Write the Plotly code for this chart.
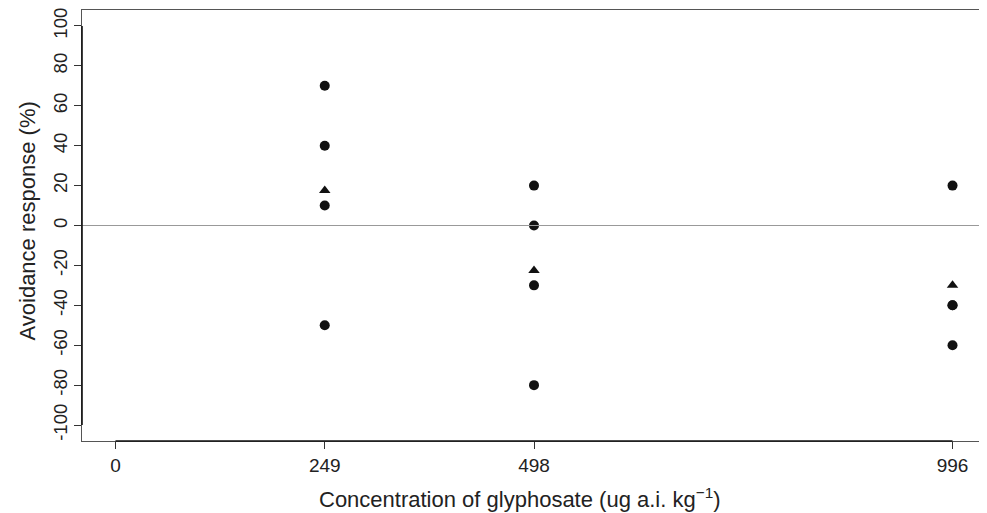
import plotly.graph_objects as go

# Data
conc_obs = [249, 249, 249, 249, 498, 498, 498, 498, 996, 996, 996, 996]
resp_obs = [70, 40, 10, -50, 20, 0, -30, -80, 20, -40, -40, -60]
conc_mean = [249, 498, 996]
resp_mean = [17.5, -22.5, -30]
x_ticks = [0, 249, 498, 996]
y_ticks = [-100, -80, -60, -40, -20, 0, 20, 40, 60, 80, 100]

fig = go.Figure()
fig.add_trace(go.Scatter(x=conc_obs, y=resp_obs, mode="markers",
                         marker=dict(symbol="circle", size=10, color="#111111"),
                         showlegend=False, cliponaxis=False))
fig.add_trace(go.Scatter(x=conc_mean, y=resp_mean, mode="markers",
                         marker=dict(symbol="triangle-up", size=10, color="#111111"),
                         showlegend=False, cliponaxis=False))
fig.add_hline(y=0, line=dict(color="#999999", width=1))

# R-style axis segments (black, from first to last tick)
fig.add_shape(type="line", xref="x", yref="paper", x0=x_ticks[0], x1=x_ticks[-1],
              y0=0, y1=0, line=dict(color="#111111", width=1.6))
fig.add_shape(type="line", xref="paper", yref="y", x0=0, x1=0,
              y0=y_ticks[0], y1=y_ticks[-1], line=dict(color="#111111", width=1.6))

font = dict(family="Liberation Sans, Arial, sans-serif", color="#222222")
fig.update_layout(
    width=979, height=505,
    margin=dict(l=74, r=1, t=2, b=72),
    plot_bgcolor="white", paper_bgcolor="white",
    font=dict(size=18, **font),
    xaxis=dict(range=[-39.84, 1035.84], tickmode="array", tickvals=x_ticks,
               ticktext=[str(v) for v in x_ticks],
               showgrid=False, zeroline=False, showline=True, linecolor="#555555",
               linewidth=1, mirror=True, ticks="outside", ticklen=7,
               tickcolor="#333333", tickfont=dict(size=19), ticklabeloverflow="allow"),
    yaxis=dict(range=[-108, 108], tickmode="array", tickvals=y_ticks,
               ticktext=[str(v) for v in y_ticks], tickangle=-90,
               showgrid=False, zeroline=False, showline=True, linecolor="#555555",
               linewidth=1, mirror=True, ticks="outside", ticklen=7,
               tickcolor="#333333", tickfont=dict(size=18.5), ticklabeloverflow="allow"),
    annotations=[
        dict(text="Concentration of glyphosate (ug a.i. kg<sup>−1</sup>)",
             xref="paper", yref="paper", x=0.5, y=0, xanchor="center", yanchor="top",
             xshift=-14, yshift=-41, showarrow=False, font=dict(size=22)),
        dict(text="Avoidance response (%)", textangle=-90,
             xref="paper", yref="paper", x=0, y=0.5, xanchor="center", yanchor="middle",
             xshift=-55, yshift=4, showarrow=False, font=dict(size=22)),
    ],
)
fig.write_html("out.html")
